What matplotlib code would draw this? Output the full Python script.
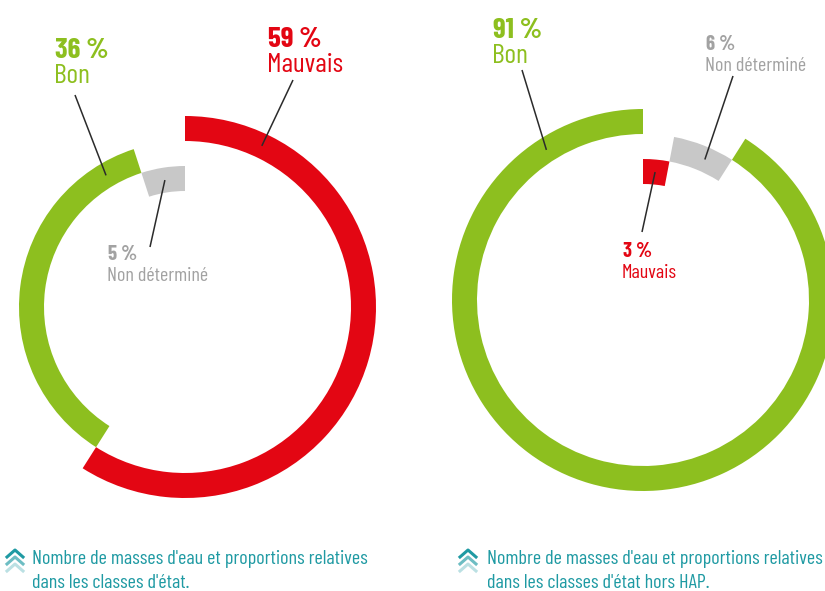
import numpy as np
import matplotlib.pyplot as plt
from matplotlib.patches import Wedge

# état des masses d'eau, en %, dans l'ordre horaire à partir de midi
labels_all = ['Mauvais', 'Bon', 'Non déterminé']
pct_all = [59, 36, 5]
labels_hap = ['Mauvais', 'Non déterminé', 'Bon']
pct_hap = [3, 6, 91]
captions = ["Nombre de masses d'eau et proportions relatives\ndans les classes d'état.",
            "Nombre de masses d'eau et proportions relatives\ndans les classes d'état hors HAP."]

ring_col = {'Mauvais': '#e30613', 'Bon': '#8dbf1f', 'Non déterminé': '#c8c8c8'}
text_col = {'Mauvais': '#e30613', 'Bon': '#8dbf1f', 'Non déterminé': '#a2a2a2'}
teal = '#1f9aa3'

plt.rcParams['font.family'] = ['Barlow Condensed', 'DejaVu Sans']

fig = plt.figure(figsize=(8.25, 5.91), dpi=100)
ax = fig.add_axes([0, 0, 1, 1])
ax.set_xlim(0, 825)
ax.set_ylim(591, 0)
ax.axis('off')

R0 = 191
W = 25

def ring(cx, cy, labels, pct, text_pos, line_start, anchor_frac, capx):
    order = np.argsort(pct)[::-1]
    level = np.empty(len(pct), int)
    level[order] = np.arange(len(pct))
    start = np.concatenate([[0], np.cumsum(pct)[:-1]]) * 3.6
    for i, lab in enumerate(labels):
        a1 = start[i]
        a2 = a1 + pct[i] * 3.6
        r = R0 - level[i] * W
        # axe y inversé : l'angle tourne dans le sens horaire
        ax.add_patch(Wedge((cx, cy), r, a1 - 90, a2 - 90, width=W,
                           color=ring_col[lab], lw=0))
        # trait de rappel vers le milieu de l'anneau
        am = np.radians(a1 + anchor_frac[i] * (a2 - a1))
        rm = r - W / 2
        x0, y0 = line_start[i]
        ax.plot([x0, cx + rm * np.sin(am)], [y0, cy - rm * np.cos(am)],
                color='#2b2b2b', lw=1.1, solid_capstyle='butt')
        tx, ty, big = text_pos[i]
        s1, s2, gap = (21, 20, 25) if big else (15, 14.5, 21)
        ax.text(tx, ty, f'{pct[i]} %', color=text_col[lab], fontsize=s1,
                fontweight='bold', va='baseline', ha='left')
        ax.text(tx - 1, ty + gap, lab, color=text_col[lab], fontsize=s2,
                va='baseline', ha='left')
    # chevrons devant la légende
    for k, alpha in enumerate([1.0, 0.65, 0.3]):
        yy = 553 + k * 7
        ax.plot([capx - 8, capx, capx + 8], [yy + 4, yy - 3, yy + 4],
                color=teal, alpha=alpha, lw=2.2)

ring(185, 307, labels_all, pct_all,
     [(268, 47, True), (55, 58, True), (108, 260, False)],
     [(293, 80), (75, 95), (150, 247)],
     [0.12, 0.9, 0.5], 15)
ring(643, 300, labels_hap, pct_hap,
     [(623, 257, False), (706, 50, False), (493, 38, True)],
     [(642, 232), (733, 76), (522, 70)],
     [0.5, 0.6, 0.9], 468)

ax.text(32, 588, captions[0], color=teal, fontsize=14.5, va='baseline',
        ha='left', linespacing=1.42)
ax.text(487, 588, captions[1], color=teal, fontsize=14.5, va='baseline',
        ha='left', linespacing=1.42)

fig.savefig('out.png', dpi=100)
